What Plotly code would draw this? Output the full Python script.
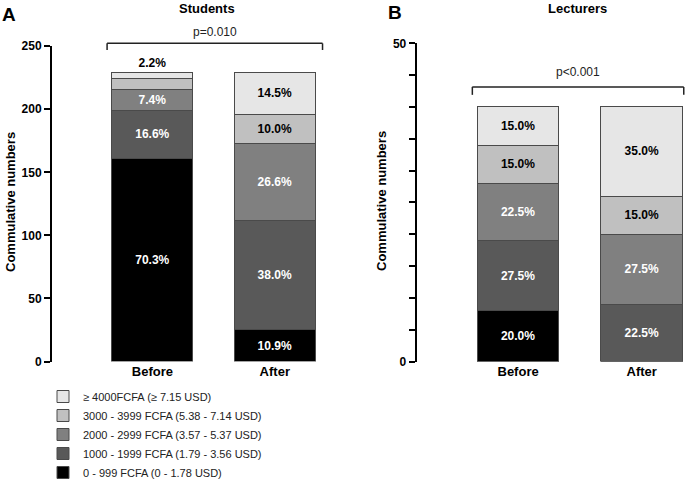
import plotly.graph_objects as go

categories = ["Before", "After"]
series_names = [
    "0 - 999 FCFA (0 - 1.78 USD)",
    "1000 - 1999 FCFA (1.79 - 3.56 USD)",
    "2000 - 2999 FCFA (3.57 - 5.37 USD)",
    "3000 - 3999 FCFA (5.38 - 7.14 USD)",
    "\u2265 4000FCFA (\u2265 7.15 USD)",
]
colors = ["#000000", "#595959", "#808080", "#c0c0c0", "#e6e6e6"]
text_colors = ["white", "white", "white", "black", "black"]

# Students (counts, total 229)
students_0_999 = [161, 25]
students_1000_1999 = [38, 87]
students_2000_2999 = [17, 61]
students_3000_3999 = [8, 23]
students_4000 = [5, 33]
students_lbl_0_999 = ["70.3%", "10.9%"]
students_lbl_1000_1999 = ["16.6%", "38.0%"]
students_lbl_2000_2999 = ["7.4%", "26.6%"]
students_lbl_3000_3999 = ["", "10.0%"]
students_lbl_4000 = ["2.2%", "14.5%"]

# Lecturers (counts, total 40)
lecturers_0_999 = [8, 0]
lecturers_1000_1999 = [11, 9]
lecturers_2000_2999 = [9, 11]
lecturers_3000_3999 = [6, 6]
lecturers_4000 = [6, 14]
lecturers_lbl_0_999 = ["20.0%", ""]
lecturers_lbl_1000_1999 = ["27.5%", "22.5%"]
lecturers_lbl_2000_2999 = ["22.5%", "27.5%"]
lecturers_lbl_3000_3999 = ["15.0%", "15.0%"]
lecturers_lbl_4000 = ["15.0%", "35.0%"]

students_ticks = [0, 50, 100, 150, 200, 250]
lecturers_ticks = list(range(0, 55, 5))
lecturers_ticktext = ["0"] + [""] * 9 + ["50"]

students = [students_0_999, students_1000_1999, students_2000_2999, students_3000_3999, students_4000]
students_lbl = [students_lbl_0_999, students_lbl_1000_1999, students_lbl_2000_2999, students_lbl_3000_3999, students_lbl_4000]
lecturers = [lecturers_0_999, lecturers_1000_1999, lecturers_2000_2999, lecturers_3000_3999, lecturers_4000]
lecturers_lbl = [lecturers_lbl_0_999, lecturers_lbl_1000_1999, lecturers_lbl_2000_2999, lecturers_lbl_3000_3999, lecturers_lbl_4000]

FONT = "Liberation Sans, Arial, sans-serif"
BAR_W = 0.66
EDGE = "#4a4a4a"

fig = go.Figure()
for i in range(5):
    tp = ["outside", "inside"] if i == 4 else "inside"
    fig.add_trace(go.Bar(
        x=categories, y=students[i], text=students_lbl[i], name=series_names[i],
        xaxis="x", yaxis="y", width=BAR_W, legendgroup=str(i), showlegend=True,
        marker=dict(color=colors[i], line=dict(color=EDGE, width=1)),
        textposition=tp, insidetextanchor="middle", textangle=0,
        textfont=dict(family=FONT, size=12, color=text_colors[i], weight="bold"),
        outsidetextfont=dict(family=FONT, size=12, color="black", weight="bold"),
        cliponaxis=False, hoverinfo="skip",
    ))
for i in range(5):
    fig.add_trace(go.Bar(
        x=categories, y=lecturers[i], text=lecturers_lbl[i], name=series_names[i],
        xaxis="x2", yaxis="y2", width=BAR_W, legendgroup=str(i), showlegend=False,
        marker=dict(color=colors[i], line=dict(color=EDGE, width=1)),
        textposition="inside", insidetextanchor="middle", textangle=0,
        textfont=dict(family=FONT, size=12, color=text_colors[i], weight="bold"),
        cliponaxis=False, hoverinfo="skip",
    ))

W, H = 685, 481
xr_a = [-0.82, 1.5]
xr_b = [-0.82, 1.35]
ydom_bot = 1 - 361.5 / H

tickfont = dict(family=FONT, size=12, color="black", weight="bold")
xfont = dict(family=FONT, size=13, color="black", weight="bold")

fig.update_layout(
    width=W, height=H, barmode="stack",
    margin=dict(l=0, r=0, t=0, b=0, autoexpand=False),
    paper_bgcolor="white", plot_bgcolor="white",
    font=dict(family=FONT, color="black"),
    xaxis=dict(domain=[52 / W, 336 / W], range=xr_a, showline=False, ticks="",
               showgrid=False, zeroline=False, tickfont=xfont, anchor="y", fixedrange=True,
               automargin=False),
    yaxis=dict(domain=[ydom_bot, 1 - 46.2 / H], range=[0, 250], tickvals=students_ticks,
               showline=True, linewidth=2, linecolor="black", ticks="outside", ticklen=6,
               tickwidth=2, tickcolor="black", showgrid=False, zeroline=False,
               tickfont=tickfont, anchor="x", automargin=False),
    xaxis2=dict(domain=[416.7 / W, 1.0], range=xr_b, showline=False, ticks="",
                showgrid=False, zeroline=False, tickfont=xfont, anchor="y2", automargin=False),
    yaxis2=dict(domain=[ydom_bot, 1 - 43.3 / H], range=[0, 50], tickvals=lecturers_ticks,
                ticktext=lecturers_ticktext,
                showline=True, linewidth=2, linecolor="black", ticks="outside", ticklen=6,
                tickwidth=2, tickcolor="black", showgrid=False, zeroline=False,
                tickfont=tickfont, anchor="x2", automargin=False),
    legend=dict(x=43 / W, y=1 - 382 / H, xanchor="left", yanchor="top",
                traceorder="reversed", font=dict(family=FONT, size=11, color="#222"),
                bgcolor="rgba(0,0,0,0)", tracegroupgap=2, itemclick=False),
    showlegend=True,
)


def dom(x, r):
    return (x - r[0]) / (r[1] - r[0])


# Significance brackets
def bracket(xref, yref, r, x0, x1, ytop, ybot):
    lw = dict(color="#222", width=1.5)
    fig.add_shape(type="line", xref=xref, yref=yref, x0=dom(x0, r), x1=dom(x1, r), y0=ytop, y1=ytop, line=lw)
    fig.add_shape(type="line", xref=xref, yref=yref, x0=dom(x0, r), x1=dom(x0, r), y0=ytop, y1=ybot, line=lw)
    fig.add_shape(type="line", xref=xref, yref=yref, x0=dom(x1, r), x1=dom(x1, r), y0=ytop, y1=ybot, line=lw)


bracket("x domain", "y domain", xr_a, -0.37, 1.39, 1.009, 0.988)
bracket("x2 domain", "y2 domain", xr_b, -0.37, 1.34, 0.863, 0.838)


def A(text, x, y, xref="paper", yref="paper", size=12, weight="normal", color="black", angle=0):
    return dict(text=text, x=x, y=y, xref=xref, yref=yref, xanchor="center", yanchor="middle",
                showarrow=False, textangle=angle,
                font=dict(family=FONT, size=size, color=color, weight=weight))


ann = [
    A("p=0.010", 0.5 * (dom(-0.37, xr_a) + dom(1.39, xr_a)), 1.045, "x domain", "y domain", color="#222"),
    A("p<0.001", 0.5 * (dom(-0.37, xr_b) + dom(1.34, xr_b)), 0.911, "x2 domain", "y2 domain", color="#222"),
    A("Students", 207 / W, 1 - 8 / H, size=13, weight="bold"),
    A("Lecturers", 577 / W, 1 - 8 / H, size=13, weight="bold"),
    A("A", 9 / W, 1 - 14 / H, size=19, weight="bold"),
    A("B", 395 / W, 1 - 12 / H, size=19, weight="bold"),
    A("Commulative numbers", 10 / W, 1 - 202 / H, size=13, weight="bold", angle=-90),
    A("Commulative numbers", 382 / W, 1 - 201 / H, size=13, weight="bold", angle=-90),
]
fig.update_layout(annotations=ann)

fig.write_html("out.html", config={"displayModeBar": False},
               post_script="document.body.style.margin='0';document.body.style.overflow='hidden';")
